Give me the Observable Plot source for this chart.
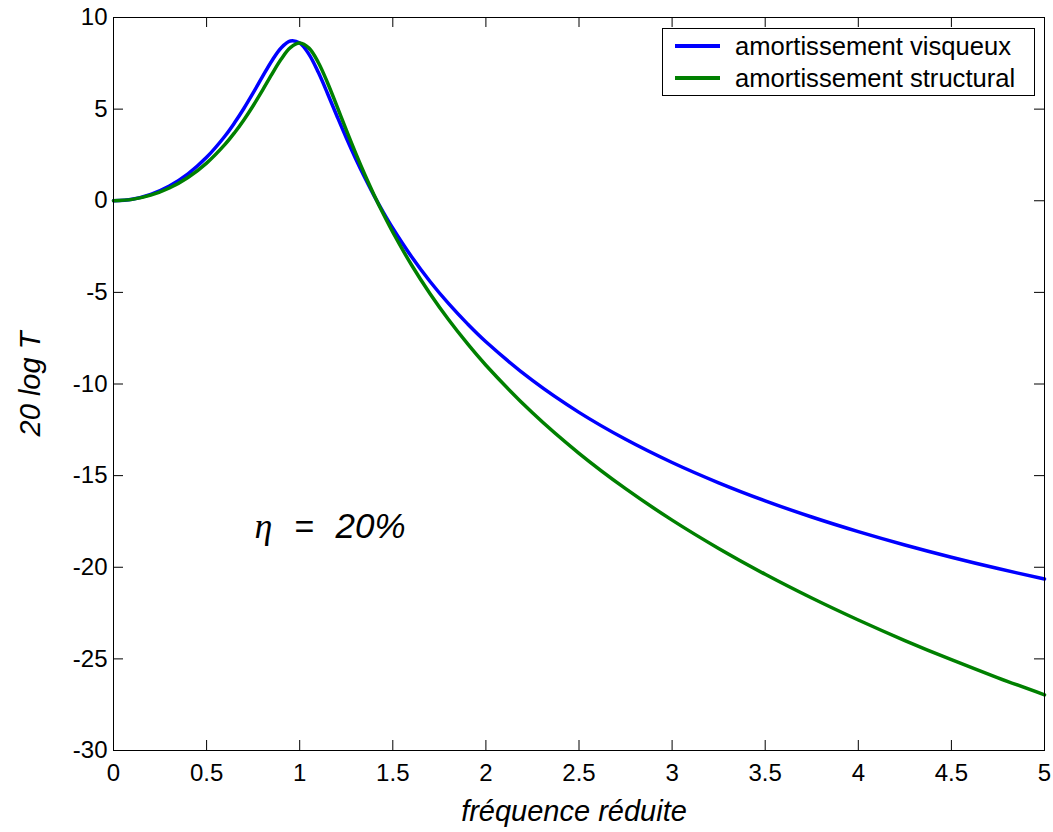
<!DOCTYPE html>
<html>
<head>
<meta charset="utf-8">
<script src="https://cdn.jsdelivr.net/npm/d3@7"></script>
<script src="https://cdn.jsdelivr.net/npm/@observablehq/plot@0.6"></script>
<style>
  body { margin: 0; background: #fff; }
  #wrap { position: relative; width: 1053px; height: 832px; background: #fff; }
  #legend {
    position: absolute; left: 662px; top: 28px; width: 373px; height: 68px;
    border: 1px solid #000; box-sizing: border-box; background: #fff;
    font-family: "Liberation Sans", Arial, sans-serif; font-size: 25.6px; color: #000;
    padding-top: 1px;
  }
  #legend .row { display: flex; align-items: center; height: 32px; line-height: 32px; }
  #legend .sw { width: 45px; height: 4px; margin-left: 12px; margin-right: 15px; }
</style>
</head>
<body>
<div id="wrap"></div>
<script>
// reduced frequency r
const freq = [0, 0.1, 0.2, 0.3, 0.4, 0.5, 0.6, 0.65, 0.7, 0.75, 0.8, 0.85, 0.9, 0.95, 1.0,
  1.05, 1.1, 1.15, 1.2, 1.25, 1.3, 1.35, 1.4, 1.45, 1.5, 1.6, 1.7, 1.8, 1.9, 2.0,
  2.25, 2.5, 2.75, 3.0, 3.25, 3.5, 3.75, 4.0, 4.25, 4.5, 4.75, 5.0];
// 20 log T, viscous damping
const viscous = [0, 0.087, 0.352, 0.806, 1.469, 2.371, 3.548, 4.251, 5.032, 5.881, 6.769, 7.628, 8.336, 8.713, 8.603,
  7.989, 7.008, 5.842, 4.627, 3.438, 2.309, 1.252, 0.267, -0.649, -1.503, -3.047, -4.407, -5.618, -6.706, -7.693,
  -9.807, -11.548, -13.018, -14.285, -15.393, -16.377, -17.259, -18.056, -18.784, -19.453, -20.071, -20.645];
// 20 log T, structural damping
const structural = [0, 0.075, 0.304, 0.697, 1.271, 2.056, 3.089, 3.712, 4.411, 5.187, 6.027, 6.897, 7.720, 8.353, 8.603,
  8.327, 7.546, 6.428, 5.160, 3.865, 2.609, 1.420, 0.304, -0.740, -1.717, -3.494, -5.075, -6.497, -7.789, -8.974,
  -11.573, -13.784, -15.713, -17.428, -18.974, -20.384, -21.680, -22.880, -23.999, -25.046, -26.031, -26.961];

const xTicks = [0, 0.5, 1, 1.5, 2, 2.5, 3, 3.5, 4, 4.5, 5];
const yTicks = [-30, -25, -20, -15, -10, -5, 0, 5, 10];
const seriesNames = ["amortissement visqueux", "amortissement structural"];
const seriesColors = ["#0000ff", "#008000"];
const xLabel = "fréquence réduite";
const yLabel = "20 log T";
const etaSymbol = "η";
const etaEq = "=";
const etaValue = "20%";

const rows = freq.map((f, i) => ({f, v: viscous[i], s: structural[i]}));

const W = 1053, H = 832, mt = 17, mb = 82, ml = 113, mr = 9;
const innerH = H - mt - mb, innerW = W - ml - mr, tk = 10;
const sans = '"Liberation Sans", Arial, Helvetica, sans-serif';

const plot = Plot.plot({
  width: W, height: H,
  marginTop: mt, marginBottom: mb, marginLeft: ml, marginRight: mr,
  x: {domain: [0, 5]},
  y: {domain: [-30, 10]},
  style: {fontFamily: sans, background: "#fff", color: "#000", overflow: "visible"},
  marks: [
    Plot.axisX(xTicks, {tickSize: 0, tickPadding: 13, fontSize: 24, tickFormat: d => String(d), label: null}),
    Plot.axisY(yTicks, {tickSize: 0, tickPadding: 6, fontSize: 24, tickFormat: d => String(d), label: null}),
    Plot.tickX(xTicks, {x: d => d, insetTop: innerH - tk, stroke: "#000"}),
    Plot.tickX(xTicks, {x: d => d, insetBottom: innerH - tk, stroke: "#000"}),
    Plot.tickY(yTicks, {y: d => d, insetRight: innerW - tk, stroke: "#000"}),
    Plot.tickY(yTicks, {y: d => d, insetLeft: innerW - tk, stroke: "#000"}),
    Plot.line(rows, {x: "f", y: "v", stroke: seriesColors[0], strokeWidth: 3.5, curve: "catmull-rom"}),
    Plot.line(rows, {x: "f", y: "s", stroke: seriesColors[1], strokeWidth: 3.5, curve: "catmull-rom"}),
    Plot.frame({stroke: "#000", strokeWidth: 1}),
    Plot.text([xLabel], {frameAnchor: "bottom", dy: 70, dx: -5, textAnchor: "middle", lineAnchor: "bottom", fontSize: 29, fontStyle: "italic", fill: "#000"}),
    Plot.text([yLabel], {frameAnchor: "left", dx: -74, rotate: -90, textAnchor: "middle", lineAnchor: "bottom", fontSize: 29, fontStyle: "italic", fill: "#000"}),
    Plot.text([etaSymbol], {frameAnchor: "top-left", dx: 141, dy: 520, textAnchor: "start", lineAnchor: "bottom", fontSize: 36, fontStyle: "italic", fontFamily: '"Liberation Serif", "Times New Roman", serif', fill: "#000"}),
    Plot.text([etaEq], {frameAnchor: "top-left", dx: 181, dy: 520, textAnchor: "start", lineAnchor: "bottom", fontSize: 34, fontFamily: sans, fill: "#000"}),
    Plot.text([etaValue], {frameAnchor: "top-left", dx: 222, dy: 520, textAnchor: "start", lineAnchor: "bottom", fontSize: 35, fontStyle: "italic", fontFamily: sans, fill: "#000"})
  ]
});

const wrap = document.getElementById("wrap");
wrap.appendChild(plot);

const legend = document.createElement("div");
legend.id = "legend";
seriesNames.forEach((name, i) => {
  const row = document.createElement("div");
  row.className = "row";
  const sw = document.createElement("span");
  sw.className = "sw";
  sw.style.background = seriesColors[i];
  const t = document.createElement("span");
  t.textContent = name;
  row.appendChild(sw);
  row.appendChild(t);
  legend.appendChild(row);
});
wrap.appendChild(legend);
</script>
</body>
</html>
